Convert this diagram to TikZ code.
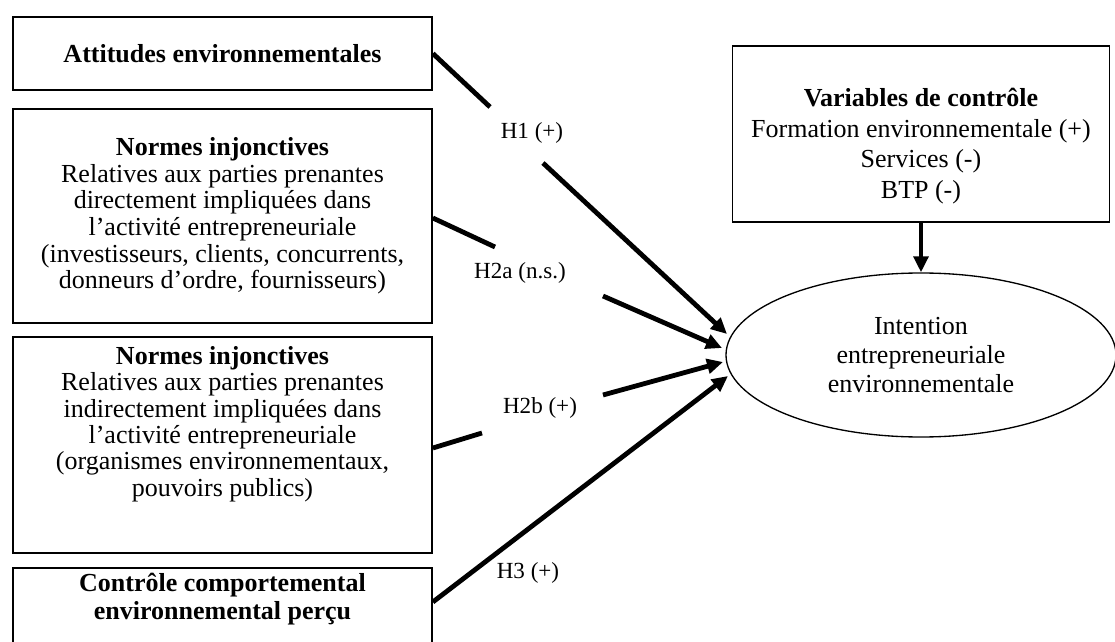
\documentclass[tikz,border=0pt]{standalone}
\usepackage{fontspec}
\setmainfont{Liberation Serif}
\usetikzlibrary{arrows.meta,positioning,shapes.geometric}
\tikzset{
	box/.style={draw, line width=1.3pt, minimum width=314.25pt, inner sep=0pt},
	txt/.style={align=center, inner sep=0pt},
	hyp/.style={inner sep=0pt, font=\fontsize{17.3}{20}\selectfont},
	link/.style={line width=3.6pt},
	arr/.style={line width=3.6pt, -{Triangle[length=12pt,width=11pt]}},
}
\begin{document}
\begin{tikzpicture}[x=0.75pt,y=-0.75pt]
		\useasboundingbox (0,0) rectangle (1115,642);
		\clip (0,0) rectangle (1115,642);
		% variables explicatives
		\node[box, minimum height=54.75pt, font=\fontsize{19.5}{20}\selectfont\bfseries] (att) at (222.5,53.5) {Attitudes environnementales};
		\node[box, minimum height=160.5pt, align=center, font=\fontsize{19.5}{20}\selectfont] (nid) at (222.5,216)
			{\textbf{Normes injonctives}\\Relatives aux parties prenantes\\directement impliquées dans\\l’activité entrepreneuriale\\(investisseurs, clients, concurrents,\\donneurs d’ordre, fournisseurs)};
		\node[box, minimum height=162pt] (nii) at (222.5,445) {};
		\node[txt, font=\fontsize{19.5}{19.8}\selectfont] (niiT) at (222.5,424)
			{\textbf{Normes injonctives}\\Relatives aux parties prenantes\\indirectement impliquées dans\\l’activité entrepreneuriale\\(organismes environnementaux,\\pouvoirs publics)};
		\node[box, minimum height=75pt, anchor=north] (pbc) at (222.5,567) {};
		\node[txt, font=\fontsize{19.5}{21}\selectfont\bfseries] (pbcT) at (222.5,599)
			{Contrôle comportemental\\environnemental perçu};
		% controle et intention
		\node[box, minimum width=282.75pt, minimum height=132pt] (ctl) at (921,134) {};
		\node[txt, font=\fontsize{19.5}{23}\selectfont] (ctlT) at (921,146)
			{\textbf{Variables de contrôle}\\Formation environnementale (+)\\Services (-)\\BTP (-)};
		\node[draw, ellipse, line width=1pt, minimum width=292.5pt, minimum height=123pt, align=center,
			font=\fontsize{19.5}{21.75}\selectfont] (int) at (921,355)
			{Intention\\entrepreneuriale\\environnementale};
		% hypotheses
		\node[hyp] (h1) at (532,133) {H1 (+)};
		\node[hyp] (h2a) at (520,273) {H2a (n.s.)};
		\node[hyp] (h2b) at (540,408) {H2b (+)};
		\node[hyp] (h3) at (528,573) {H3 (+)};
		\coordinate (g1a) at (490,107);
		\coordinate (g1b) at (543,163);
		\coordinate (t1) at (727,334);
		\coordinate (g2a) at (495,247);
		\coordinate (g2b) at (603,296);
		\coordinate (t2) at (722,348);
		\coordinate (g3a) at (482,433);
		\coordinate (g3b) at (603,395);
		\coordinate (t3) at (723,362);
		\coordinate (t4) at (728,376);
		\draw [link] (att.east) to (g1a);
		\draw [arr] (g1b) to (t1);
		\draw [link] ([yshift=-1.5pt]nid.east) to (g2a);
		\draw [arr] (g2b) to (t2);
		\draw [link] ([yshift=-2.25pt]nii.east) to (g3a);
		\draw [arr] (g3b) to (t3);
		\draw [arr] ([yshift=-26.25pt]pbc.north east) to (t4);
		\draw [arr] (ctl.south) to (int.north);
	\end{tikzpicture}
\end{document}
